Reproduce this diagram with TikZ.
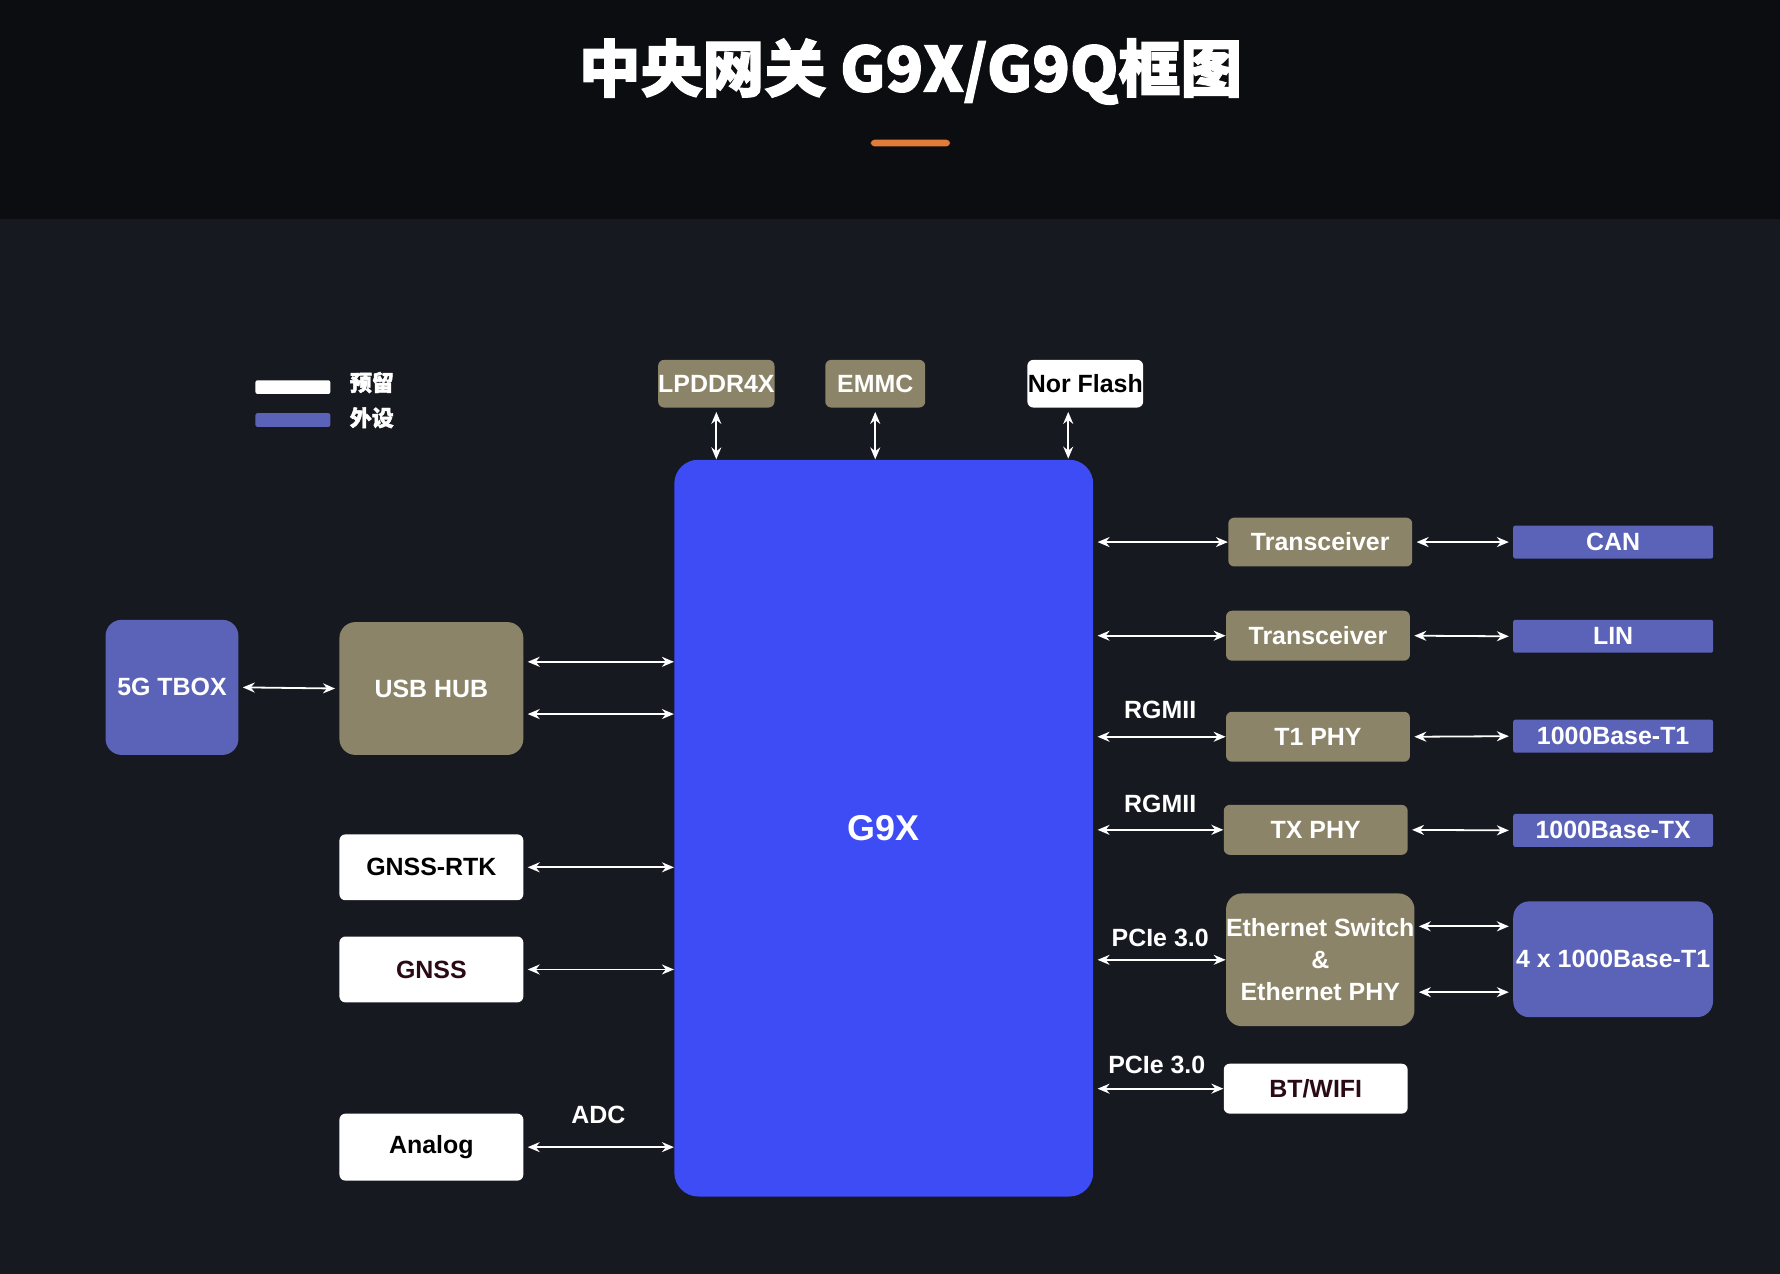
\documentclass[tikz,border=0pt]{standalone}
\usepackage{fontspec}
\setmainfont{Liberation Sans}
\newfontfamily\cjk{Noto Sans CJK SC}[BoldFeatures={FakeBold=2}]
\usetikzlibrary{arrows.meta}
\definecolor{bgtop}{HTML}{0C0D10}
\definecolor{bgmain}{HTML}{16191F}
\definecolor{chipblue}{HTML}{3D4CF5}
\definecolor{khaki}{HTML}{8C8468}
\definecolor{purp}{HTML}{5A63B8}
\definecolor{orng}{HTML}{E07B39}
\definecolor{dark}{HTML}{2A0A14}
\newcommand\bx[7]{\node[#2, minimum width={(#5-#3)*0.02cm}, minimum height={(#6-#4)*0.02cm}] (#1) at ({(#3+#5)/2},{(#4+#6)/2}) {#7};}
\tikzset{
 base/.style={inner sep=0pt, font=\bfseries\fontsize{12.5}{14}\selectfont, align=center},
 kh/.style={base, fill=khaki, text=white, rounded corners=3pt},
 khr/.style={base, fill=khaki, text=white, rounded corners=8pt},
 wh/.style={base, fill=white, text=black, rounded corners=3pt},
 pu/.style={base, fill=purp, text=white, rounded corners=1pt},
 pur/.style={base, fill=purp, text=white, rounded corners=8pt},
 arr/.style={draw=white, line width=0.9pt, {Stealth[length=6pt,width=5pt]}-{Stealth[length=6pt,width=5pt]}},
 lbl/.style={text=white, font=\bfseries\fontsize{12.5}{14}\selectfont}
}
\begin{document}
\begin{tikzpicture}[x=0.02cm,y=-0.02cm]
\fill[bgmain] (0,0) rectangle (1568,1122);
\fill[bgtop] (0,0) rectangle (1568,193);
\node[text=white, font=\cjk\bfseries\fontsize{31}{36}\selectfont] (title) at (802,63) {中央网关 G9X/G9Q框图};
\fill[orng, rounded corners=2pt] (767,123) rectangle (837,129);
% legend
\fill[white, rounded corners=1pt] (225,335) rectangle (291,347);
\fill[purp, rounded corners=1pt] (225,364) rectangle (291,376);
\node[anchor=west, text=white, font=\cjk\bfseries\fontsize{11}{13}\selectfont] (l1) at (302,337) {预留};
\node[anchor=west, text=white, font=\cjk\bfseries\fontsize{11}{13}\selectfont] (l2) at (302,368) {外设};
% boxes
\bx{g}{base, fill=chipblue, text=white, rounded corners=12pt, font=\bfseries\fontsize{18}{20}\selectfont}{594}{405}{963}{1054}{G9X}
\bx{lp}{kh}{580}{317}{682}{359}{LPDDR4X}
\bx{em}{kh}{727}{317}{815}{359}{EMMC}
\bx{nf}{wh}{905}{317}{1007}{359}{Nor Flash}
\bx{tb}{pur}{93}{546}{210}{665}{5G TBOX}
\bx{usb}{khr}{299}{548}{461}{665}{USB HUB}
\bx{rtk}{wh}{299}{735}{461}{793}{GNSS-RTK}
\bx{gnss}{wh,text=dark}{299}{825}{461}{883}{GNSS}
\bx{an}{wh}{299}{981}{461}{1040}{Analog}
\bx{tr1}{kh}{1082}{456}{1244}{499}{Transceiver}
\bx{tr2}{kh}{1080}{538}{1242}{582}{Transceiver}
\bx{t1}{kh}{1080}{627}{1242}{671}{T1 PHY}
\bx{tx}{kh}{1078}{709}{1240}{753}{TX PHY}
\bx{es}{khr}{1082}{787}{1244}{904}{Ethernet Switch\\[2pt]\&\\[2pt]Ethernet PHY}
\bx{bt}{wh,text=dark}{1078}{937}{1240}{981}{BT/WIFI}
\bx{can}{pu}{1333}{463}{1509}{492}{CAN}
\bx{lin}{pu}{1333}{546}{1509}{575}{LIN}
\bx{bt1}{pu}{1333}{634}{1509}{663}{1000Base-T1}
\bx{btx}{pu}{1333}{717}{1509}{746}{1000Base-TX}
\bx{q}{pur}{1333}{794}{1509}{896}{4 x 1000Base-T1}
% top arrows
\draw[arr] ([yshift=-2pt]lp.south) -- (lp.south |- g.north);
\draw[arr] ([yshift=-2pt]em.south) -- (em.south |- g.north);
\draw[arr] ([yshift=-2pt]nf.south -| 941,0) -- (941,404);
% left
\draw[arr] ([xshift=2pt]tb.east) -- ([xshift=-2pt]usb.west);
\draw[arr] ([xshift=2pt]usb.east |- 0,583) -- (g.west |- 0,583);
\draw[arr] ([xshift=2pt]usb.east |- 0,629) -- (g.west |- 0,629);
\draw[arr] ([xshift=2pt]rtk.east) -- (g.west |- rtk.east);
\draw[arr] ([xshift=2pt]gnss.east) -- (g.west |- gnss.east);
\draw[arr] ([xshift=2pt]an.east) -- (g.west |- an.east);
\node[lbl] (adc) at (527,982) {ADC};
% right
\draw[arr] ([xshift=2pt]g.east |- tr1.west) -- (tr1.west);
\draw[arr] ([xshift=2pt]g.east |- tr2.west) -- (tr2.west);
\draw[arr] ([xshift=2pt]g.east |- t1.west) -- (t1.west);
\draw[arr] ([xshift=2pt]g.east |- tx.west) -- (tx.west);
\draw[arr] ([xshift=2pt]g.east |- es.west) -- (es.west);
\draw[arr] ([xshift=2pt]g.east |- bt.west) -- (bt.west);
\node[lbl] (r1) at (1022,625) {RGMII};
\node[lbl] (r2) at (1022,708) {RGMII};
\node[lbl] (p1) at (1022,826) {PCIe 3.0};
\node[lbl] (p2) at (1019,938) {PCIe 3.0};
\draw[arr] ([xshift=2pt]tr1.east) -- ([xshift=-2pt]can.west);
\draw[arr] ([xshift=2pt]tr2.east) -- ([xshift=-2pt]lin.west);
\draw[arr] ([xshift=2pt]t1.east) -- ([xshift=-2pt]bt1.west);
\draw[arr] ([xshift=2pt]tx.east) -- ([xshift=-2pt]btx.west);
\draw[arr] ([xshift=2pt]es.east |- 0,816) -- ([xshift=-2pt]q.west |- 0,816);
\draw[arr] ([xshift=2pt]es.east |- 0,874) -- ([xshift=-2pt]q.west |- 0,874);
\end{tikzpicture}
\end{document}
